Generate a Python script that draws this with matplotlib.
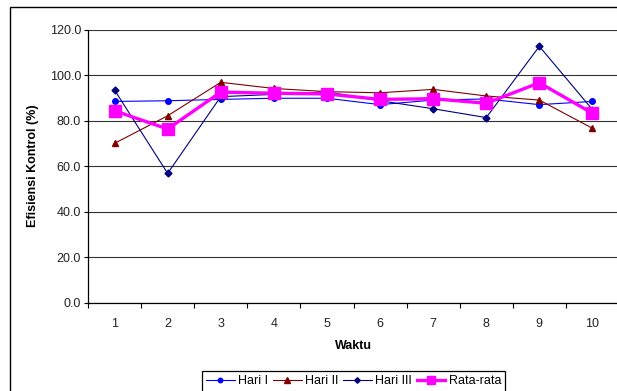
import matplotlib
matplotlib.use("Agg")
import matplotlib.pyplot as plt
from matplotlib.patches import Rectangle

plt.rcParams['font.family'] = ['Liberation Sans', 'DejaVu Sans']

waktu = [1, 2, 3, 4, 5, 6, 7, 8, 9, 10]
hari_1 = [88.4, 88.7, 89.3, 89.8, 89.8, 87.0, 89.0, 89.5, 87.0, 88.4]
hari_2 = [70.0, 82.1, 96.8, 94.1, 92.7, 92.2, 93.7, 90.8, 89.0, 76.6]
hari_3 = [93.4, 56.8, 90.5, 91.5, 92.6, 88.7, 85.2, 81.3, 112.6, 84.8]
rata_rata = [84.3, 76.3, 92.5, 92.0, 91.7, 89.3, 89.6, 87.6, 96.6, 83.2]
y_ticks = [0, 20, 40, 60, 80, 100, 120]

W, H = 617, 391
fig = plt.figure(figsize=(W / 100, H / 100), dpi=100)
ax = fig.add_axes([88 / W, 1 - 302.7 / H, (619 - 88) / W, (302.7 - 29.5) / H])

ax.plot(waktu, hari_1, color='#0000FF', lw=0.8, marker='o', ms=4, label='Hari I')
ax.plot(waktu, hari_2, color='#800000', lw=0.8, marker='^', ms=5, label='Hari II')
ax.plot(waktu, hari_3, color='#000080', lw=0.8, marker='D', ms=3.5, label='Hari III')
ax.plot(waktu, rata_rata, color='#FF00FF', lw=2.4, marker='s', ms=8, label='Rata-rata')

ax.set_xlim(0.5, 10.5)
ax.set_ylim(0, 120)
ax.set_yticks(y_ticks)
ax.set_yticklabels([f"{v:.1f}" for v in y_ticks])
ax.set_xticks(waktu)
ax.set_xticks([i + 0.5 for i in range(0, 10)], minor=True)
ax.tick_params(axis='x', which='major', length=0, pad=11, labelsize=9, labelcolor='#222222')
ax.tick_params(axis='x', which='minor', length=3.5, width=0.8, direction='out')
ax.tick_params(axis='y', length=3, width=0.8, pad=2, labelsize=9, labelcolor='#222222')

ax.grid(axis='y', color='#333333', lw=0.8)
ax.set_axisbelow(True)
for side in ('top', 'right'):
    ax.spines[side].set_visible(False)
for side in ('left', 'bottom'):
    ax.spines[side].set_linewidth(0.9)
    ax.spines[side].set_color('black')

ax.set_ylabel('Efisiensi Kontrol (%)', fontsize=9, fontweight='bold')
ax.set_xlabel('Waktu', fontsize=9, fontweight='bold')
ax.yaxis.set_label_coords(-(88 - 33) / (619 - 88), 0.5)
ax.xaxis.set_label_coords(0.5, -(346 - 302.7) / (302.7 - 29.5))
ax.xaxis.label.set_verticalalignment('center')
ax.yaxis.label.set_verticalalignment('center')

leg = fig.legend(loc='upper center', bbox_to_anchor=(353.5 / W, 1 - 371 / H), ncol=4,
                 fontsize=9, frameon=True, fancybox=False, handlelength=2.3,
                 handletextpad=0.25, columnspacing=0.4, borderpad=0.35, borderaxespad=0,
                 markerscale=0.8)
leg.get_frame().set_edgecolor('black')
leg.get_frame().set_linewidth(0.9)
leg.get_frame().set_alpha(1)

# chart area frame, running off the right and bottom edges
fig.add_artist(Rectangle((10 / W, -0.1), 1.0, 1.1 - 7 / H, transform=fig.transFigure,
                         fill=False, lw=1, ec='black'))

fig.savefig('out.png', dpi=100)
